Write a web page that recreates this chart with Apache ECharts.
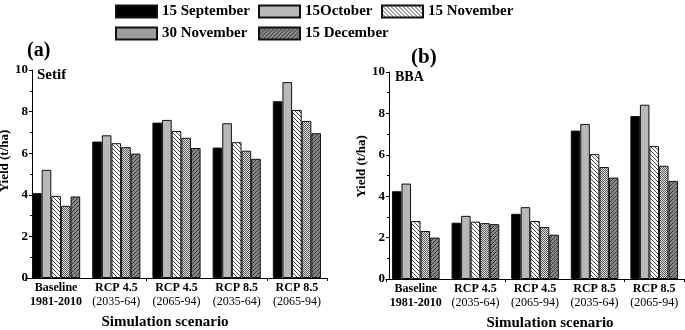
<!DOCTYPE html>
<html>
<head>
<meta charset="utf-8">
<script src="https://cdn.jsdelivr.net/npm/echarts@6/dist/echarts.min.js"></script>
<style>
  html, body { margin: 0; padding: 0; background: #fff; }
  #chart { width: 685px; height: 330px; }
</style>
</head>
<body>
<div id="chart"></div>
<script>
const scenarios = ['Baseline', 'RCP 4.5', 'RCP 4.5', 'RCP 8.5', 'RCP 8.5'];
const periods = ['1981-2010', '(2035-64)', '(2065-94)', '(2035-64)', '(2065-94)'];
const sowingDates = ['15 September', '15October', '15 November', '30 November', '15 December'];
const yTicks = [0, 2, 4, 6, 8, 10];

// Setif (a)
const setifSep15 = [4.08, 6.56, 7.47, 6.27, 8.50];
const setifOct15 = [5.20, 6.86, 7.60, 7.44, 9.42];
const setifNov15 = [3.95, 6.48, 7.07, 6.53, 8.08];
const setifNov30 = [3.47, 6.29, 6.74, 6.12, 7.55];
const setifDec15 = [3.92, 5.98, 6.25, 5.73, 6.96];

// BBA (b)
const bbaSep15 = [4.24, 2.72, 3.15, 7.17, 7.87];
const bbaOct15 = [4.61, 3.05, 3.47, 7.49, 8.42];
const bbaNov15 = [2.80, 2.77, 2.80, 6.03, 6.42];
const bbaNov30 = [2.32, 2.70, 2.51, 5.41, 5.47];
const bbaDec15 = [2.00, 2.65, 2.14, 4.90, 4.74];

const FONT = '"Liberation Serif", "Times New Roman", serif';

function hatch(bg, fg, forward, step) {
  const c = document.createElement('canvas');
  c.width = step; c.height = step;
  const g = c.getContext('2d');
  g.fillStyle = bg;
  g.fillRect(0, 0, step, step);
  g.strokeStyle = fg;
  g.lineWidth = 1;
  g.beginPath();
  if (forward) { // '/'
    g.moveTo(-1, step + 1); g.lineTo(step + 1, -1);
    g.moveTo(-1, 1); g.lineTo(1, -1);
    g.moveTo(step - 1, step + 1); g.lineTo(step + 1, step - 1);
  } else { // '\'
    g.moveTo(-1, -1); g.lineTo(step + 1, step + 1);
    g.moveTo(step - 1, -1); g.lineTo(step + 1, 1);
    g.moveTo(-1, step - 1); g.lineTo(1, step + 1);
  }
  g.stroke();
  return c;
}

function checker() {
  const c = document.createElement('canvas');
  c.width = 2; c.height = 2;
  const g = c.getContext('2d');
  g.fillStyle = '#dedede';
  g.fillRect(0, 0, 2, 2);
  g.fillStyle = '#5e5e5e';
  g.fillRect(0, 0, 1, 1);
  g.fillRect(1, 1, 1, 1);
  return c;
}

const fills = [
  '#000000',
  '#b8b8b8',
  { image: hatch('#ffffff', '#4a4a4a', false, 4), repeat: 'repeat' },
  { image: checker(), repeat: 'repeat' },
  { image: hatch('#858585', '#3c3c3c', true, 4), repeat: 'repeat' }
];

const setifData = [setifSep15, setifOct15, setifNov15, setifNov30, setifDec15];
const bbaData = [bbaSep15, bbaOct15, bbaNov15, bbaNov30, bbaDec15];

const labels = scenarios.map(function (s, i) {
  const second = i === 0 ? '{b|' + periods[i] + '}' : '{n|' + periods[i] + '}';
  return '{b|' + s + '}\n' + second;
});

function makeSeries(data, axisIdx) {
  return data.map(function (vals, i) {
    return {
      name: sowingDates[i],
      type: 'bar',
      xAxisIndex: axisIdx * 2,
      yAxisIndex: axisIdx,
      barGap: '0%',
      barCategoryGap: '20%',
      data: vals,
      itemStyle: { color: fills[i], borderColor: '#111', borderWidth: 1 },
      emphasis: { disabled: true },
      animation: false
    };
  });
}

function xAxes(gridIndex, namePad) {
  return [{
    type: 'category',
    gridIndex: gridIndex,
    data: labels,
    position: 'bottom',
    axisLine: { lineStyle: { color: '#000', width: 1 } },
    axisTick: { alignWithLabel: true, length: 4, lineStyle: { color: '#000' } },
    axisLabel: {
      interval: 0,
      margin: 3,
      color: '#000',
      lineHeight: 14,
      rich: {
        b: { fontFamily: FONT, fontWeight: 'bold', fontSize: 12, color: '#000', lineHeight: 14 },
        n: { fontFamily: FONT, fontWeight: 'normal', fontSize: 12, color: '#000', lineHeight: 14 }
      }
    },
    name: 'Simulation scenario',
    nameLocation: 'middle',
    nameGap: 37,
    nameTextStyle: { fontFamily: FONT, fontWeight: 'bold', fontSize: 15, color: '#000', padding: namePad }
  }, {
    type: 'category',
    gridIndex: gridIndex,
    data: labels,
    position: 'bottom',
    axisLine: { show: false },
    axisTick: { show: true, length: 3, lineStyle: { color: '#000' } },
    axisLabel: { show: false }
  }];
}

function yAxis(gridIndex, offset, namePad) {
  return {
    type: 'value',
    gridIndex: gridIndex,
    min: yTicks[0],
    max: yTicks[yTicks.length - 1],
    interval: 2,
    offset: offset,
    axisLine: { show: true, lineStyle: { color: '#000', width: 1 } },
    axisTick: { show: true, length: 3, lineStyle: { color: '#000' } },
    minorTick: { show: true, splitNumber: 2, length: 2, lineStyle: { color: '#000' } },
    splitLine: { show: false },
    axisLabel: { margin: 4, color: '#000', fontFamily: FONT, fontWeight: 'bold', fontSize: 13 },
    name: 'Yield (t/ha)',
    nameLocation: 'middle',
    nameGap: 19,
    nameTextStyle: { fontFamily: FONT, fontWeight: 'bold', fontSize: 13, color: '#000', padding: namePad }
  };
}

function legendAt(name, left, top) {
  return {
    data: [name],
    left: left,
    top: top,
    padding: 0,
    icon: 'rect',
    itemWidth: 41,
    itemHeight: 12,
    selectedMode: false,
    textStyle: { fontFamily: FONT, fontWeight: 'bold', fontSize: 15, color: '#000' }
  };
}

const chart = echarts.init(document.getElementById('chart'), null, { renderer: 'canvas' });
chart.setOption({
  backgroundColor: '#fff',
  animation: false,
  legend: [
    legendAt(sowingDates[0], 115, 4),
    legendAt(sowingDates[1], 258, 4),
    legendAt(sowingDates[2], 381, 4),
    legendAt(sowingDates[3], 115, 26),
    legendAt(sowingDates[4], 258, 26)
  ],
  grid: [
    { left: 26, top: 70, width: 301, bottom: 52, containLabel: false, outerBoundsMode: 'none' },
    { left: 386, top: 72, width: 298, bottom: 51, containLabel: false, outerBoundsMode: 'none' }
  ],
  xAxis: xAxes(0, [0, 23, 0, 0]).concat(xAxes(1, [0, 0, 0, 30])),
  yAxis: [yAxis(0, -6, [0, 0, 0, 26]), yAxis(1, -3, [0, 0, 0, 18])],
  graphic: [
    { type: 'text', left: 27, top: 41, style: { text: '(a)', fontFamily: FONT, fontWeight: 'bold', fontSize: 20, fill: '#000' } },
    { type: 'text', left: 411, top: 47, style: { text: '(b)', fontFamily: FONT, fontWeight: 'bold', fontSize: 21, fill: '#000' } },
    { type: 'text', left: 37, top: 68, style: { text: 'Setif', fontFamily: FONT, fontWeight: 'bold', fontSize: 15, fill: '#000' } },
    { type: 'text', left: 395, top: 70, style: { text: 'BBA', fontFamily: FONT, fontWeight: 'bold', fontSize: 14, fill: '#000' } }
  ],
  series: makeSeries(setifData, 0).concat(makeSeries(bbaData, 1))
});
</script>
</body>
</html>
